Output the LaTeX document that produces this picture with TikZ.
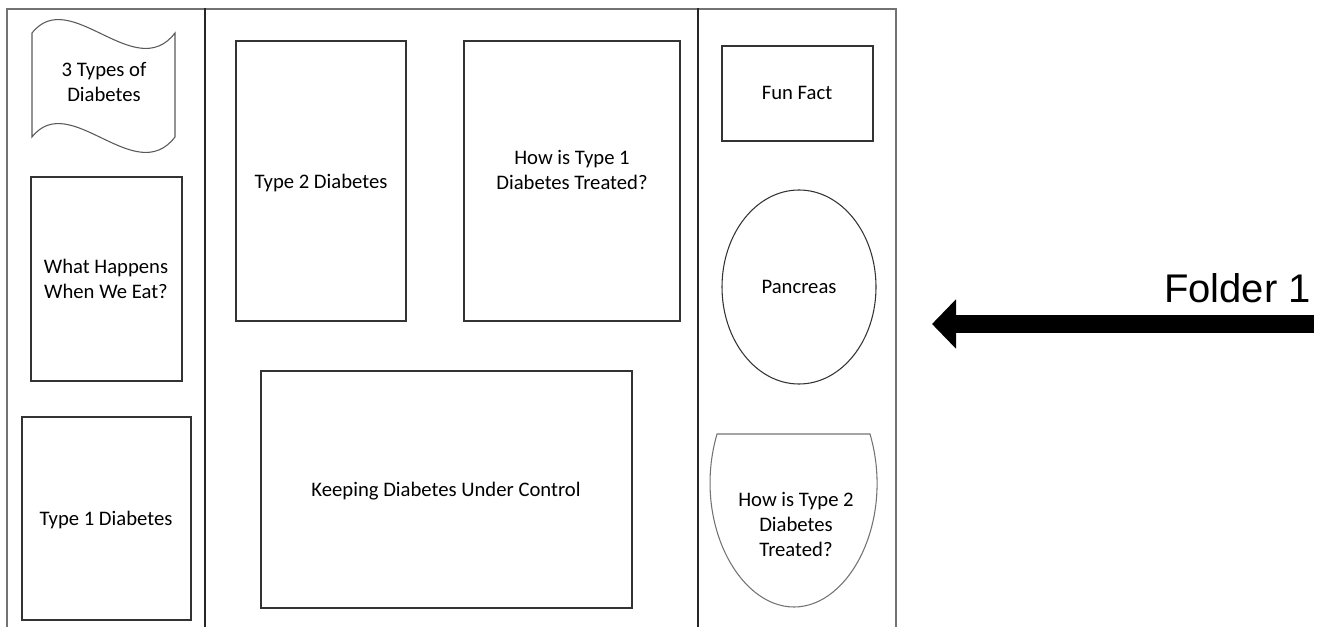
\documentclass[tikz,border=0pt]{standalone}
\usepackage{fontspec}
\setmainfont{Carlito}
\newfontfamily\labelfont{Liberation Sans}
\usetikzlibrary{arrows.meta}
\tikzset{
  frame/.style={draw=black!55, line width=1pt},
  divider/.style={draw=black!85, line width=0.8pt},
  panel/.style={draw=black!80, line width=0.8pt},
  lbl/.style={align=center, font=\fontsize{15.5pt}{18.75pt}\selectfont, inner sep=0pt},
}
\begin{document}
\begin{tikzpicture}[x=0.75pt, y=-0.75pt]
\useasboundingbox (0,0) rectangle (1326,627);
% folder frame
\draw[frame] (7,627) -- (7,9) -- (896,9) -- (896,627);
\draw[divider] (205,8) -- (205,627);
\draw[divider] (698,8) -- (698,627);

% left column
\draw[panel, black!65] (32,33) .. controls (70,-15) and (135,85) .. (175,33)
  -- (175,137) .. controls (135,189) and (70,89) .. (32,137) -- cycle;
\node[lbl] (types) at (104,82) {3 Types of\\Diabetes};

\draw[panel] (31,177) rectangle (182,381);
\node[lbl] (eat) at (106,279) {What Happens\\When We Eat?};

\draw[panel] (22,417) rectangle (191,620);
\node[lbl] (t1) at (106,520) {Type 1 Diabetes};

% middle column
\draw[panel] (236,41) rectangle (406,321);
\node[lbl] (t2) at (321,183) {Type 2 Diabetes};

\draw[panel] (464,41) rectangle (680,321);
\node[lbl] (t1treat) at (572,170) {How is Type 1\\Diabetes Treated?};

\draw[panel] (261,371) rectangle (632,608);
\node[lbl] (keep) at (446,491) {Keeping Diabetes Under Control};

% right column
\draw[panel] (722,46) rectangle (873,141);
\node[lbl] (fun) at (797,93) {Fun Fact};

\draw[panel] (799,287) ellipse [x radius=77, y radius=97];
\node[lbl] (pan) at (799,287) {Pancreas};

\draw[panel, black!55] (717,434) -- (870,434)
  .. controls (895,520) and (850,607) .. (794,607)
  .. controls (738,607) and (692,520) .. (717,434) -- cycle;
\node[lbl] (t2treat) at (796,524) {How is Type 2\\Diabetes\\Treated?};

% folder label and arrow
\node[font=\labelfont\fontsize{30pt}{36pt}\selectfont, anchor=base east, inner sep=0pt] (folder) at (1311,302) {Folder 1};
\coordinate (arrowstart) at (1314,324);
\coordinate (arrowtip) at (932,324);
\draw[line width=13.5pt, -{Triangle[length=18pt, width=36pt]}] (arrowstart) -- (arrowtip);
\end{tikzpicture}
\end{document}
